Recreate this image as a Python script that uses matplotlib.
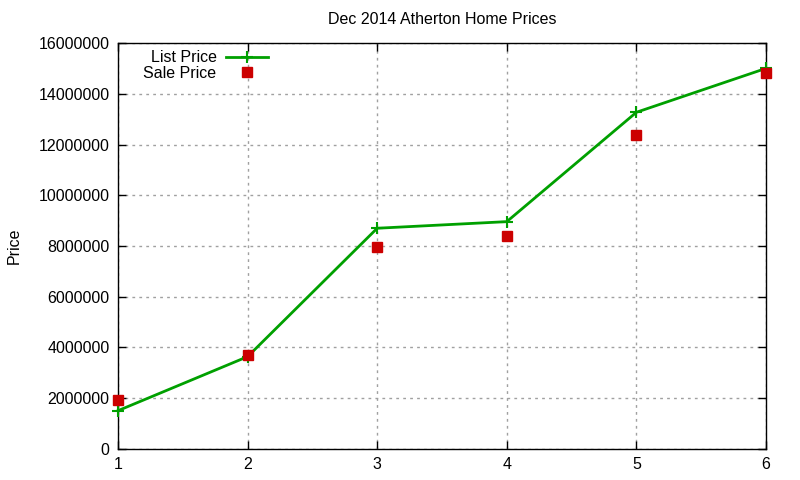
import matplotlib.pyplot as plt
from matplotlib.ticker import FuncFormatter

plt.rcParams['font.family'] = ['Liberation Sans', 'DejaVu Sans']

months = [1, 2, 3, 4, 5, 6]
list_price = [1510000, 3640000, 8700000, 8960000, 13270000, 15000000]
sale_price = [1920000, 3690000, 7970000, 8410000, 12380000, 14810000]

fig = plt.figure(figsize=(8, 4.8), dpi=100)
ax = fig.add_axes([0.1475, 0.0646, 0.81, 0.8458])

ax.plot(months, list_price, color='#00a000', lw=2, marker='+', ms=8, mew=1.5,
        label='List Price', clip_on=False, zorder=3)
ax.plot(months, sale_price, color='#cc0000', ls='none', marker='s', ms=6.5,
        label='Sale Price', clip_on=False, zorder=4)

ax.set_xlim(1, 6)
ax.set_ylim(0, 16000000)
ax.set_xticks(months)
ax.set_yticks(range(0, 16000001, 2000000))
ax.yaxis.set_major_formatter(FuncFormatter(lambda v, p: '%d' % v))
ax.tick_params(direction='in', top=True, right=True, length=6, width=1,
               labelsize=11.5, pad=6)
ax.grid(True, color='#a0a0a0', ls=(0, (2, 3)), lw=1)
for s in ax.spines.values():
    s.set_linewidth(1)

ax.set_title('Dec 2014 Atherton Home Prices', fontsize=11.5, pad=14)
ax.set_ylabel('Price', fontsize=11.5, labelpad=12)

ax.legend(loc='upper left', bbox_to_anchor=(0.022, 1.01), frameon=False,
          markerfirst=False, fontsize=11.5, handlelength=2.6,
          labelspacing=0.05, borderaxespad=0.3, handletextpad=0.6)

fig.savefig('out.png', dpi=100)
